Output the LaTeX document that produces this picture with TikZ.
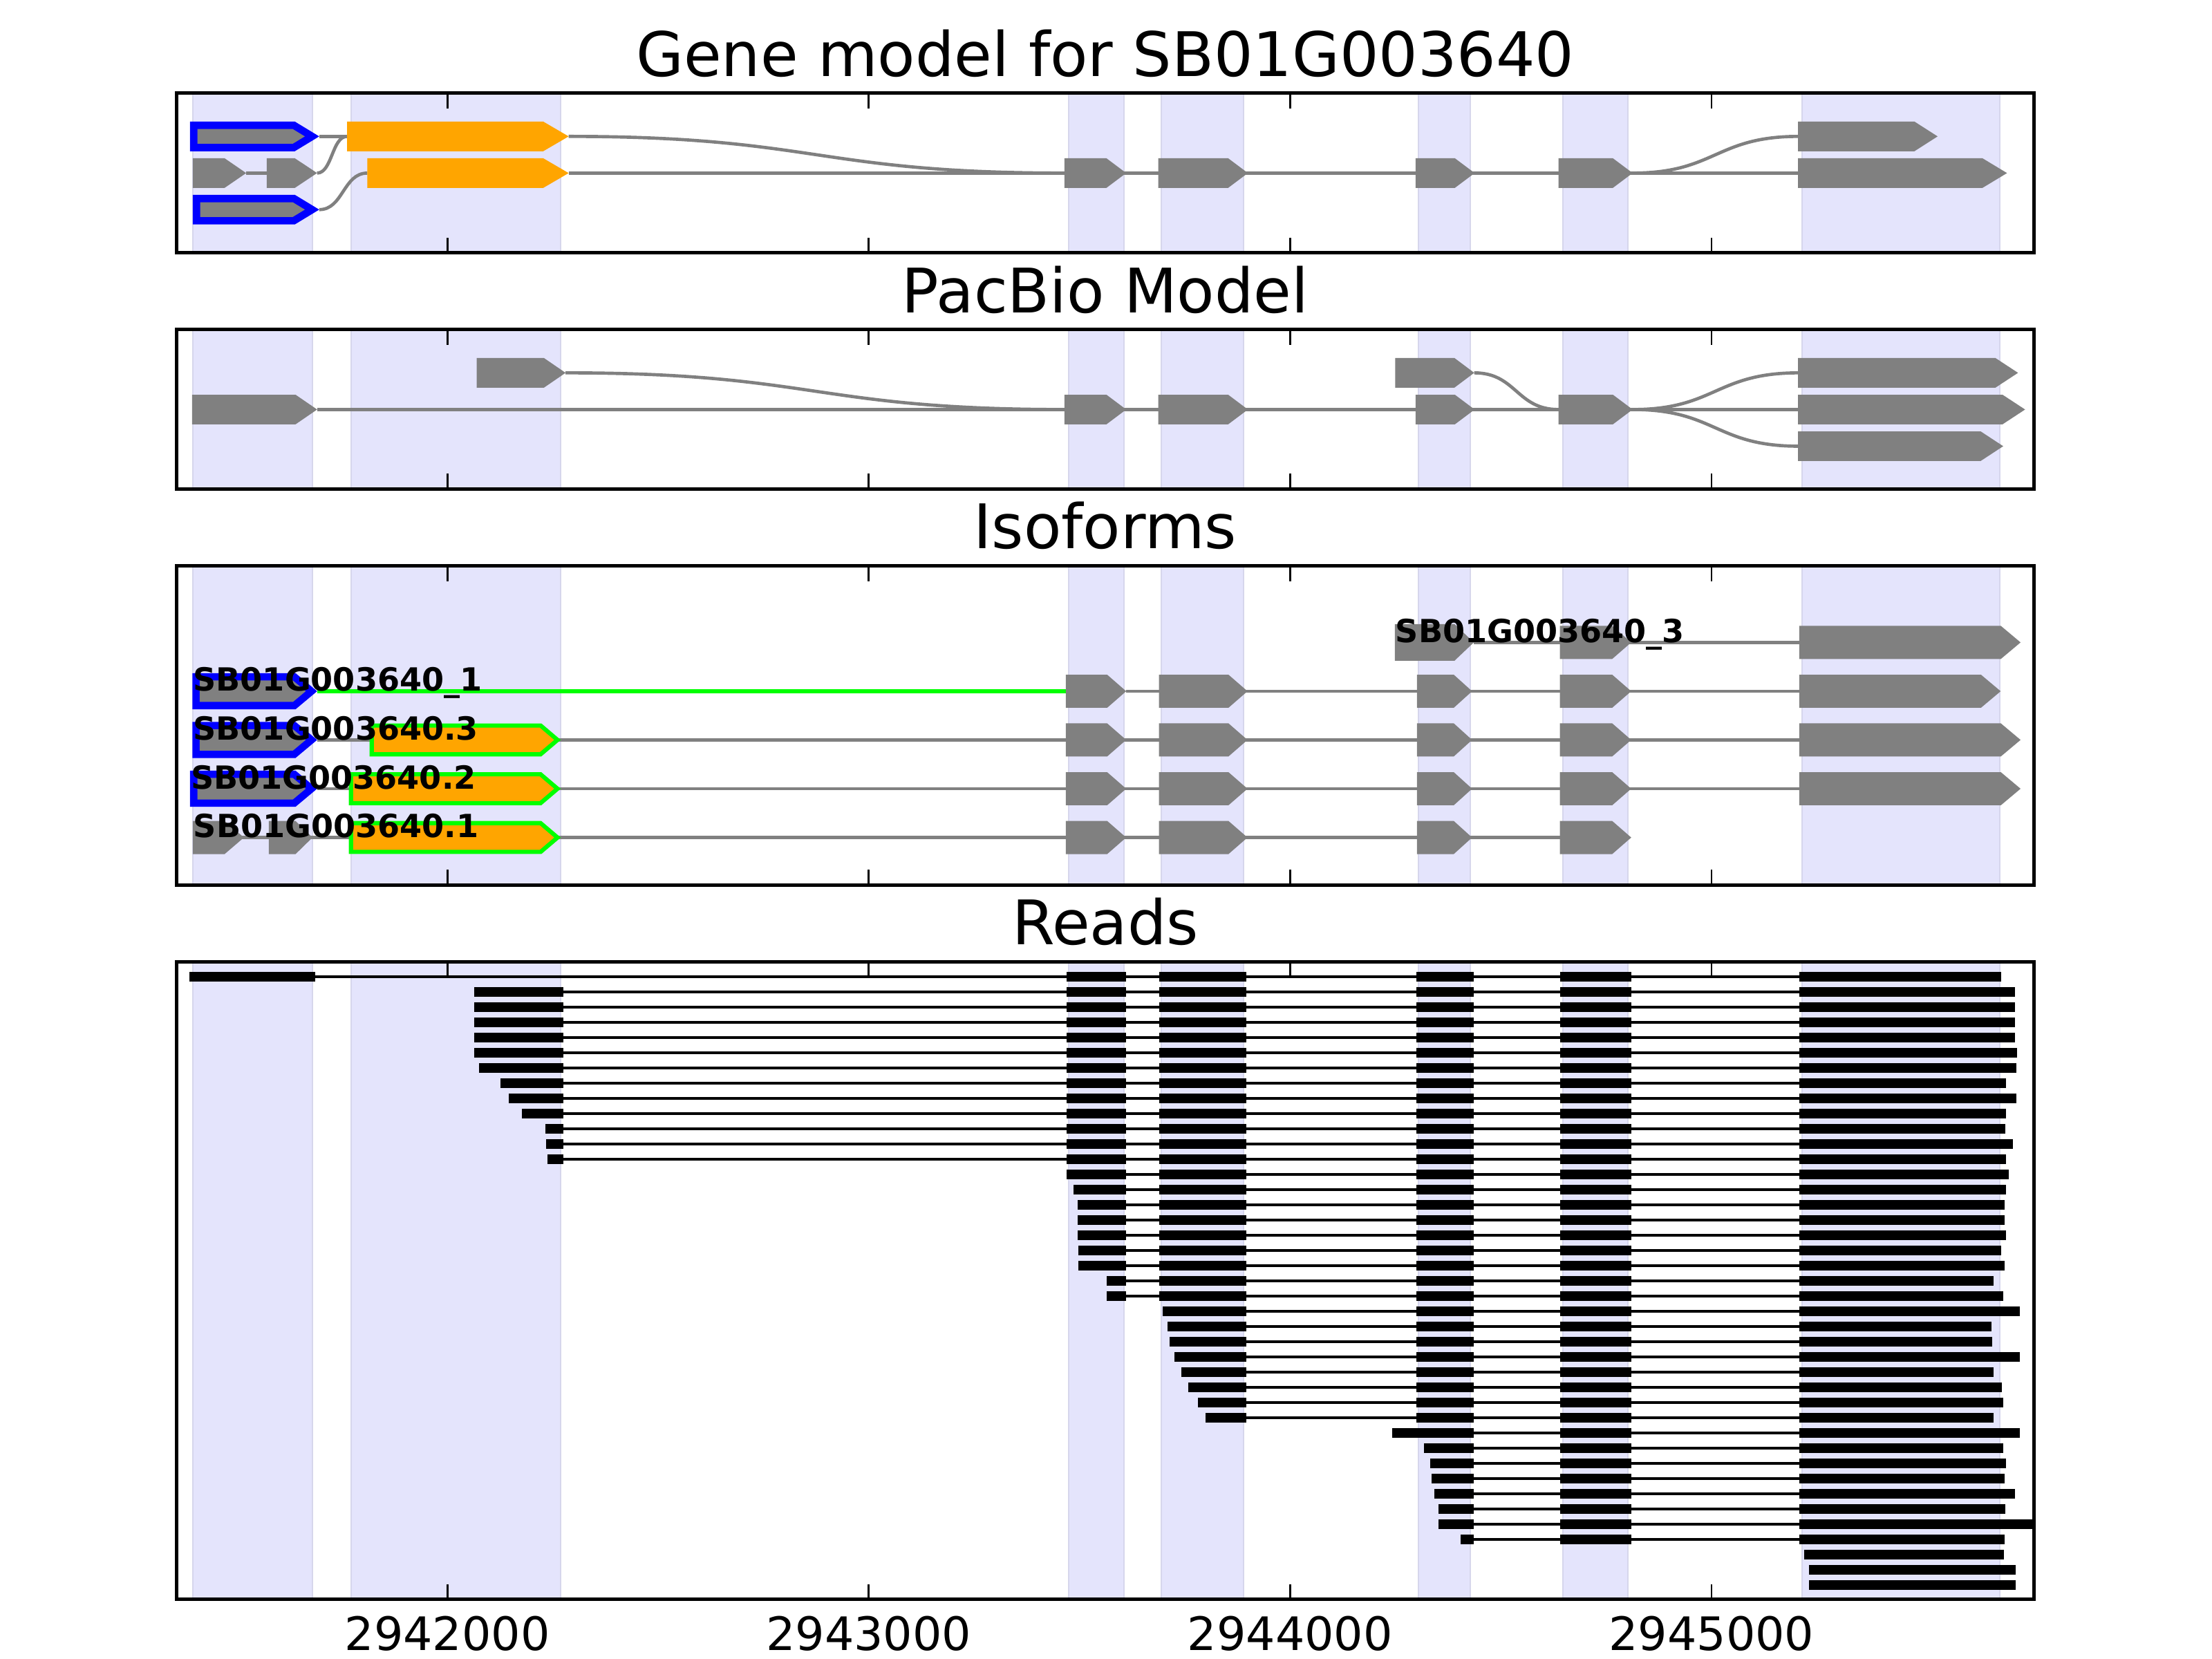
\documentclass[tikz,border=0pt]{standalone}
\usepackage{fontspec}
\setmainfont{DejaVu Sans}
\definecolor{shade}{RGB}{228,228,252}
\definecolor{shadeedge}{RGB}{214,214,236}
\definecolor{fgray}{RGB}{128,128,128}
\definecolor{forange}{RGB}{255,165,0}
\definecolor{fblue}{RGB}{0,0,255}
\definecolor{fgreen}{RGB}{0,255,0}
\tikzset{
  gline/.style={draw=fgray, line width=0.84pt},
  grline/.style={draw=fgreen, line width=0.95pt},
  rline/.style={draw=black, line width=0.72pt},
  axframe/.style={draw=black, line width=0.9pt},
  axtick/.style={draw=black, line width=0.5pt},
  shadebox/.style={fill=shade, draw=shadeedge, line width=0.35pt},
  ogbox/.style={fill=forange, draw=fgreen, line width=1.1pt},
  ttl/.style={font=\fontsize{16}{19}\selectfont, anchor=base, inner sep=0pt},
  tlab/.style={font=\fontsize{12}{14}\selectfont, anchor=base, inner sep=0pt},
  ilab/.style={font=\fontsize{8.3}{10}\selectfont\bfseries, anchor=base west, inner sep=0pt},
}
% x1 x2 y H T style
\newcommand\gbox[6]{\path[#6] (#1,{#3-#4}) -- ({#2-#5},{#3-#4}) -- (#2,#3) -- ({#2-#5},{#3+#4}) -- (#1,{#3+#4}) -- cycle;}
% x1 x2 y H T d : blue outlined gray box
\newcommand\bbox[6]{%
  \gbox{#1}{#2}{#3}{#4}{#5}{fill=fblue}%
  \pgfmathsetmacro\bbxa{#1+#6}%
  \pgfmathsetmacro\bbxb{#2-#6*sqrt(#4*#4+#5*#5)/#4}%
  \pgfmathsetmacro\bbh{#4-#6}%
  \pgfmathsetmacro\bbt{#5*(#4-#6)/#4}%
  \gbox{\bbxa}{\bbxb}{#3}{\bbh}{\bbt}{fill=fgray}}
\begin{document}
\begin{tikzpicture}[x=0.3673pt,y=-0.3673pt]
\useasboundingbox (0,0) rectangle (1568,1176);
\fill[white] (0,0) rectangle (1568,1176);

% ---------- shading ----------
\foreach \pt/\pb in {66/179.3, 233.6/346.8, 401/627.5, 681.7/1133.8}{
  \foreach \sa/\sb in {136.9/221.5, 248.9/397.6, 757.5/796.9, 823.2/881.7, 1005.5/1042.1, 1107.7/1154.1, 1277.4/1417.5}{
    \path[shadebox] (\sa,\pt) rectangle (\sb,\pb);
  }
}

% ---------- Panel 1: gene model ----------
\draw[gline] (226.3,96.7) -- (246,96.7);
\draw[gline] (174.5,122.7) -- (189.1,122.7);
\draw[gline] (224.8,122.7) .. controls (235.4,122.7) and (235.4,96.7) .. (246,96.7);
\draw[gline] (226.3,148.6) .. controls (243.3,148.6) and (243.3,122.7) .. (260.4,122.7);
\draw[gline] (403.1,96.7) .. controls (578.8,96.7) and (578.8,122.7) .. (754.5,122.7);
\draw[gline] (403.1,122.7) -- (1275,122.7);
\draw[gline] (1157.3,122.7) .. controls (1216,122.7) and (1216,96.7) .. (1275,96.7);
\bbox{134.7}{226.3}{96.7}{10.5}{17.3}{5.3}
\gbox{246}{403.1}{96.7}{10.5}{18}{fill=forange}
\gbox{136.6}{174.5}{122.7}{10.5}{15.3}{fill=fgray}
\gbox{189.1}{224.8}{122.7}{10.5}{15.8}{fill=fgray}
\gbox{260.4}{403.1}{122.7}{10.5}{18}{fill=forange}
\bbox{136.6}{226.3}{148.6}{10.5}{17.3}{5.3}
\gbox{754.5}{798.3}{122.7}{10.5}{14}{fill=fgray}
\gbox{821}{884.6}{122.7}{10.5}{14}{fill=fgray}
\gbox{1003.5}{1045.3}{122.7}{10.5}{14}{fill=fgray}
\gbox{1104.8}{1157.3}{122.7}{10.5}{14}{fill=fgray}
\gbox{1274.5}{1373.5}{96.7}{10.5}{16.4}{fill=fgray}
\gbox{1274.5}{1422.7}{122.7}{10.5}{17.4}{fill=fgray}

% ---------- Panel 2: PacBio ----------
\draw[gline] (224.8,290.3) -- (1275,290.3);
\draw[gline] (400.9,264.3) .. controls (577.7,264.3) and (577.7,290.3) .. (754.5,290.3);
\draw[gline] (1045,264.3) .. controls (1074.9,264.3) and (1074.9,290.3) .. (1104.8,290.3);
\draw[gline] (1157.3,290.3) .. controls (1216,290.3) and (1216,264.3) .. (1275,264.3);
\draw[gline] (1157.3,290.3) .. controls (1216,290.3) and (1216,316.3) .. (1275,316.3);
\gbox{136.2}{224.8}{290.3}{10.5}{15.3}{fill=fgray}
\gbox{337.9}{400.9}{264.3}{10.5}{15.3}{fill=fgray}
\gbox{754.5}{798.3}{290.3}{10.5}{14}{fill=fgray}
\gbox{821}{884.6}{290.3}{10.5}{14}{fill=fgray}
\gbox{1003.5}{1045.3}{290.3}{10.5}{14}{fill=fgray}
\gbox{989}{1045}{264.3}{10.5}{14}{fill=fgray}
\gbox{1104.8}{1157.3}{290.3}{10.5}{14}{fill=fgray}
\gbox{1274.5}{1430.5}{264.3}{10.5}{16}{fill=fgray}
\gbox{1274.5}{1435.5}{290.3}{10.5}{16}{fill=fgray}
\gbox{1274.5}{1420}{316.3}{10.5}{16}{fill=fgray}

% ---------- Panel 3: Isoforms ----------
% row 1
\draw[gline] (1044.7,455.4) -- (1275.4,455.4);
\gbox{988.7}{1044.7}{455.4}{13}{13.7}{fill=fgray}
\gbox{1105.8}{1156.3}{455.4}{11.75}{13.5}{fill=fgray}
\gbox{1275.4}{1432.3}{455.4}{11.75}{14}{fill=fgray}
% row 2
\draw[grline] (224.8,490) -- (755.5,490);
\draw[gline] (798.3,490) -- (1275.4,490);
\bbox{136.4}{224.8}{490}{12.8}{15.3}{5.2}
% row 3
\draw[gline] (224.8,524.5) -- (1275.4,524.5);
\bbox{136.4}{224.8}{524.5}{12.8}{15.3}{5.2}
\gbox{263.5}{395.2}{524.5}{10.2}{12}{ogbox}
% row 4
\draw[gline] (224.8,559.1) -- (1275.4,559.1);
\bbox{134.7}{224.8}{559.1}{12.8}{15.3}{5.2}
\gbox{248.8}{395.2}{559.1}{10.2}{12}{ogbox}
% row 5
\draw[gline] (136.6,593.7) -- (1105.8,593.7);
\gbox{136.6}{172.9}{593.7}{11.75}{13.7}{fill=fgray}
\gbox{190.5}{221.5}{593.7}{11.75}{12}{fill=fgray}
\gbox{248.8}{395.2}{593.7}{10.2}{12}{ogbox}
% common exons rows 2-5
\foreach \ry in {490,524.5,559.1,593.7}{
  \gbox{755.5}{798.3}{\ry}{11.75}{13.5}{fill=fgray}
  \gbox{821.5}{884.3}{\ry}{11.75}{13.5}{fill=fgray}
  \gbox{1004.4}{1043.5}{\ry}{11.75}{13}{fill=fgray}
  \gbox{1105.8}{1156.3}{\ry}{11.75}{13.5}{fill=fgray}
}
\gbox{1275.4}{1418.2}{490}{11.75}{14}{fill=fgray}
\gbox{1275.4}{1432.3}{524.5}{11.75}{14}{fill=fgray}
\gbox{1275.4}{1432.3}{559.1}{11.75}{14}{fill=fgray}
% labels
\node[ilab] (lab3) at (988.7,455.4) {SB01G003640\_3};
\node[ilab] (lab1) at (136.4,490) {SB01G003640\_1};
\node[ilab] (labd3) at (136.4,524.5) {SB01G003640.3};
\node[ilab] (labd2) at (134.7,559.1) {SB01G003640.2};
\node[ilab] (labd1) at (136.6,593.7) {SB01G003640.1};

% ---------- Panel 4: Reads ----------
\begin{scope}
\clip (125,681.7) rectangle (1442,1133.8);
% read 0
\draw[rline] (223.3,692.5) -- (1276,692.5);
\fill (134.2,689.1) rectangle (223.3,695.9);
\fill (755.9,689.1) rectangle (798,695.9);
\fill (821.9,689.1) rectangle (883.3,695.9);
\fill (1004.2,689.1) rectangle (1044.5,695.9);
\fill (1106.1,689.1) rectangle (1156.4,695.9);
\fill (1275.3,689.1) rectangle (1418.3,695.9);
\foreach \ri/\rs/\rk/\rend in {
 1/335.9/1/1428.1, 2/335.9/1/1428.1, 3/335.9/1/1428.1, 4/335.9/1/1428.1,
 5/335.9/1/1430.0, 6/339.4/1/1429.1, 7/355.0/1/1421.9, 8/360.6/1/1429.1,
 9/370.0/1/1421.9, 10/386.5/1/1421.4, 11/387.3/1/1427.1, 12/388.0/1/1421.9,
 13/755.9/2/1423.8, 14/760.8/2/1421.9, 15/763.8/2/1420.9, 16/764.1/2/1420.9,
 17/764.1/2/1421.9, 18/764.4/2/1418.3, 19/764.4/2/1420.9, 20/784.3/2/1413.0,
 21/784.6/2/1419.9,
 22/824.0/3/1432.0, 23/827.4/3/1411.6, 24/829.1/3/1412.1, 25/832.4/3/1432.0,
 26/837.6/3/1413.0, 27/842.3/3/1419.2, 28/849.2/3/1419.9, 29/854.4/3/1413.0,
 30/986.7/4/1432.0, 31/1009.4/4/1419.9, 32/1013.7/4/1421.9, 33/1014.7/4/1420.9,
 34/1016.5/4/1428.2, 35/1019.5/4/1421.7, 36/1019.5/4/1446.0, 37/1035.2/4/1421.2,
 38/1279.0/6/1420.4, 39/1282.4/6/1428.6, 40/1282.4/6/1428.6}{
  \pgfmathsetmacro\yy{692.5+10.775*\ri}
  \pgfmathsetmacro\ya{\yy-3.4}
  \pgfmathsetmacro\yb{\yy+3.4}
  \pgfmathsetmacro\xb{ifthenelse(\rk==2,\rs,755.9)}
  \pgfmathsetmacro\xc{ifthenelse(\rk==3,\rs,821.9)}
  \pgfmathsetmacro\xd{ifthenelse(\rk==4,\rs,1004.2)}
  \pgfmathsetmacro\xf{ifthenelse(\rk==6,\rs,1275.3)}
  \ifnum\rk<6 \draw[rline] (\rs,\yy) -- (1276,\yy); \fi
  \ifnum\rk<2 \fill (\rs,\ya) rectangle (399.2,\yb); \fi
  \ifnum\rk<3 \fill (\xb,\ya) rectangle (798,\yb); \fi
  \ifnum\rk<4 \fill (\xc,\ya) rectangle (883.3,\yb); \fi
  \ifnum\rk<5 \fill (\xd,\ya) rectangle (1044.5,\yb); \fi
  \ifnum\rk<6 \fill (1106.1,\ya) rectangle (1156.4,\yb); \fi
  \fill (\xf,\ya) rectangle (\rend,\yb);
}
\end{scope}

% ---------- frames and ticks ----------
\foreach \pt/\pb in {66/179.3, 233.6/346.8, 401/627.5, 681.7/1133.8}{
  \foreach \tx in {317.1,615.8,914.5,1213.2}{
    \draw[axtick] (\tx,\pt) -- (\tx,{\pt+10.9});
    \draw[axtick] (\tx,\pb) -- (\tx,{\pb-10.9});
  }
  \draw[axframe] (125,\pt) rectangle (1442,\pb);
}

% ---------- titles ----------
\node[ttl] (t1) at (783.5,54) {Gene model for SB01G003640};
\node[ttl] (t2) at (783.5,221.6) {PacBio Model};
\node[ttl] (t3) at (783.5,389) {Isoforms};
\node[ttl] (t4) at (783.5,669.7) {Reads};

% ---------- tick labels ----------
\node[tlab] (x1) at (317.1,1169.7) {2942000};
\node[tlab] (x2) at (615.8,1169.7) {2943000};
\node[tlab] (x3) at (914.5,1169.7) {2944000};
\node[tlab] (x4) at (1213.2,1169.7) {2945000};
\end{tikzpicture}
\end{document}
